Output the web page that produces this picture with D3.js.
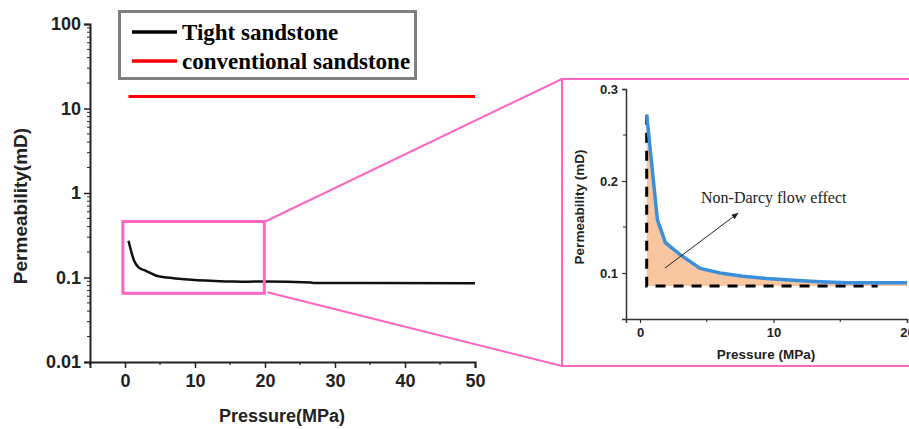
<!DOCTYPE html>
<html>
<head>
<meta charset="utf-8">
<script src="https://cdn.jsdelivr.net/npm/d3@7"></script>
<style>
  html, body { margin: 0; padding: 0; background: #fff; }
  svg { display: block; }
</style>
</head>
<body>
<svg id="chart" width="909" height="429"></svg>
<script>
// Permeability vs. pressure: tight sandstone curve and conventional sandstone level
const pressure   = [0.5, 1.3, 1.9, 3.0, 4.5, 6.0, 7.7, 9.5, 11.5, 13.5, 15.5, 17.5, 20, 26.5, 27, 35, 50];
const tightPerm  = [0.272, 0.158, 0.133, 0.120, 0.105, 0.100, 0.0965, 0.094, 0.092, 0.0905, 0.0895, 0.0893, 0.0895, 0.0875, 0.0862, 0.0858, 0.0855];
const convPressure = [0.5, 50];
const convPerm     = [13.9, 13.9];

// Axis ticks
const mainXTicks = [0, 10, 20, 30, 40, 50];
const mainXMinor = [-5, 5, 15, 25, 35, 45];
const mainYTicks = [0.01, 0.1, 1, 10, 100];
const mainYLabels = ["0.01", "0.1", "1", "10", "100"];
const insetXTicks = [0, 10, 20];
const insetXMinor = [5, 15];
const insetYTicks = [0.1, 0.2, 0.3];
const insetYMinor = [0.15, 0.25];

// Zoomed window (pressure range, permeability range) and non-Darcy baseline
const zoomPressure = [-0.3, 19.9];
const zoomPerm = [0.065, 0.46];
const darcyBase = 0.086;
const darcyEnd = 17.8;

const legendItems = ["Tight sandstone", "conventional sandstone"];
const legendColors = ["#000000", "#ff0000"];

const svg = d3.select("#chart");
const pink = "#ff66c4";
const axisColor = "#222";

// ---------- main chart ----------
const x = d3.scaleLinear().domain([-5, 50]).range([90, 475]);
const y = d3.scaleLog().domain([0.01, 100]).range([362, 24]);

const main = svg.append("g");

// minor log ticks on the y axis
const yMinor = [];
for (let e = -2; e < 2; e++) for (let k = 2; k <= 9; k++) yMinor.push(k * Math.pow(10, e));
main.selectAll("line.yminor").data(yMinor).join("line")
  .attr("x1", x(-5)).attr("x2", x(-5) - 3)
  .attr("y1", d => y(d)).attr("y2", d => y(d))
  .attr("stroke", axisColor).attr("stroke-width", 1);

main.selectAll("line.xminor").data(mainXMinor).join("line")
  .attr("x1", d => x(d)).attr("x2", d => x(d))
  .attr("y1", y(0.01)).attr("y2", y(0.01) + 3)
  .attr("stroke", axisColor).attr("stroke-width", 1.2);

const yAxis = main.append("g")
  .attr("transform", `translate(${x(-5)},0)`)
  .call(d3.axisLeft(y).tickValues(mainYTicks)
    .tickFormat((d, i) => mainYLabels[i]).tickSize(6).tickPadding(3));
const xAxis = main.append("g")
  .attr("transform", `translate(0,${y(0.01)})`)
  .call(d3.axisBottom(x).tickValues(mainXTicks).tickSize(6).tickPadding(6));

[xAxis, yAxis].forEach(g => {
  g.select(".domain").attr("stroke", axisColor).attr("stroke-width", 2);
  g.selectAll(".tick line").attr("stroke", axisColor).attr("stroke-width", 1.5);
  g.selectAll(".tick text").attr("fill", axisColor)
    .style("font-family", "'Liberation Sans', Arial, sans-serif")
    .style("font-weight", "bold").style("font-size", "18px");
});

main.append("text")
  .attr("x", 282).attr("y", 422)
  .attr("text-anchor", "middle")
  .style("font-family", "'Liberation Sans', Arial, sans-serif")
  .style("font-weight", "bold").style("font-size", "18px").attr("fill", axisColor)
  .text("Pressure(MPa)");

main.append("text")
  .attr("transform", "translate(27,206) rotate(-90)")
  .attr("text-anchor", "middle")
  .style("font-family", "'Liberation Sans', Arial, sans-serif")
  .style("font-weight", "bold").style("font-size", "19px").attr("fill", axisColor)
  .text("Permeability(mD)");

const mainLine = d3.line().x(d => x(d.p)).y(d => y(d.k));
const tightData = pressure.map((p, i) => ({ p, k: tightPerm[i] }));
const convData = convPressure.map((p, i) => ({ p, k: convPerm[i] }));

main.append("path").datum(convData)
  .attr("d", mainLine).attr("fill", "none")
  .attr("stroke", "#ff0000").attr("stroke-width", 3);
main.append("path").datum(tightData)
  .attr("d", mainLine.curve(d3.curveMonotoneX)).attr("fill", "none")
  .attr("stroke", "#111").attr("stroke-width", 2.5);

// legend
const legend = main.append("g");
legend.append("rect")
  .attr("x", 119.5).attr("y", 11.5).attr("width", 296).attr("height", 67)
  .attr("fill", "#fff").attr("stroke", "#808080").attr("stroke-width", 3);
legendItems.forEach((name, i) => {
  const ly = 32 + i * 29;
  legend.append("line")
    .attr("x1", 132).attr("x2", 177).attr("y1", ly).attr("y2", ly)
    .attr("stroke", legendColors[i]).attr("stroke-width", 3.5);
  legend.append("text")
    .attr("x", 182).attr("y", ly + 8)
    .style("font-family", "'Liberation Serif', 'Times New Roman', serif")
    .style("font-weight", "bold").style("font-size", "23px").attr("fill", "#000")
    .text(name);
});

// zoom window on the main chart
const zx0 = x(zoomPressure[0]), zx1 = x(zoomPressure[1]);
const zy0 = y(zoomPerm[1]), zy1 = y(zoomPerm[0]);
main.append("rect")
  .attr("x", zx0).attr("y", zy0).attr("width", zx1 - zx0).attr("height", zy1 - zy0)
  .attr("fill", "none").attr("stroke", pink).attr("stroke-width", 3);

// ---------- inset ----------
const box = { x: 562, y: 79, w: 360, h: 287 };
svg.append("line")
  .attr("x1", zx1 + 1).attr("y1", zy0).attr("x2", box.x).attr("y2", box.y)
  .attr("stroke", pink).attr("stroke-width", 2);
svg.append("line")
  .attr("x1", zx1 + 3).attr("y1", zy1 - 1).attr("x2", box.x).attr("y2", box.y + box.h)
  .attr("stroke", pink).attr("stroke-width", 2);
svg.append("rect")
  .attr("x", box.x).attr("y", box.y).attr("width", box.w).attr("height", box.h)
  .attr("fill", "#fff").attr("stroke", pink).attr("stroke-width", 2);

const ix = d3.scaleLinear().domain([-1.05, 20]).range([626, 907]);
const iy = d3.scaleLinear().domain([0.05, 0.3]).range([319, 89]);
const inset = svg.append("g");

const zoomData = tightData.filter(d => d.p <= 20);

inset.append("path").datum(zoomData)
  .attr("d", d3.area().x(d => ix(d.p)).y0(iy(darcyBase)).y1(d => iy(d.k)))
  .attr("fill", "#f9c6a2");

inset.append("path")
  .attr("d", d3.line()([[ix(zoomData[0].p), iy(zoomData[0].k)], [ix(zoomData[0].p), iy(darcyBase)], [ix(darcyEnd), iy(darcyBase)]]))
  .attr("fill", "none").attr("stroke", "#000").attr("stroke-width", 3)
  .attr("stroke-dasharray", "10,8");

inset.append("path").datum(zoomData)
  .attr("d", d3.line().x(d => ix(d.p)).y(d => iy(d.k)))
  .attr("fill", "none").attr("stroke", "#3b8fdb").attr("stroke-width", 3.5)
  .attr("stroke-linejoin", "round");

inset.selectAll("line.ixm").data(insetXMinor).join("line")
  .attr("x1", d => ix(d)).attr("x2", d => ix(d))
  .attr("y1", iy(0.05)).attr("y2", iy(0.05) + 3)
  .attr("stroke", axisColor).attr("stroke-width", 1);
inset.selectAll("line.iym").data(insetYMinor).join("line")
  .attr("x1", ix(-1.05)).attr("x2", ix(-1.05) - 3)
  .attr("y1", d => iy(d)).attr("y2", d => iy(d))
  .attr("stroke", axisColor).attr("stroke-width", 1);

const iyAxis = inset.append("g")
  .attr("transform", `translate(${ix(-1.05)},0)`)
  .call(d3.axisLeft(iy).tickValues(insetYTicks).tickFormat(d3.format(".1f")).tickSize(4).tickPadding(4));
const ixAxis = inset.append("g")
  .attr("transform", `translate(0,${iy(0.05)})`)
  .call(d3.axisBottom(ix).tickValues(insetXTicks).tickSize(4).tickPadding(5));
[ixAxis, iyAxis].forEach(g => {
  g.select(".domain").attr("stroke", "#333").attr("stroke-width", 1.5);
  g.selectAll(".tick line").attr("stroke", "#333").attr("stroke-width", 1.2);
  g.selectAll(".tick text").attr("fill", axisColor)
    .style("font-family", "'Liberation Sans', Arial, sans-serif")
    .style("font-weight", "bold").style("font-size", "13px");
});

inset.append("text")
  .attr("x", 766).attr("y", 359).attr("text-anchor", "middle")
  .style("font-family", "'Liberation Sans', Arial, sans-serif")
  .style("font-weight", "bold").style("font-size", "13.5px").attr("fill", axisColor)
  .text("Pressure (MPa)");
inset.append("text")
  .attr("transform", "translate(584,207) rotate(-90)").attr("text-anchor", "middle")
  .style("font-family", "'Liberation Sans', Arial, sans-serif")
  .style("font-weight", "bold").style("font-size", "13.5px").attr("fill", axisColor)
  .text("Permeability (mD)");

// annotation arrow
svg.append("defs").append("marker")
  .attr("id", "arrowhead").attr("viewBox", "0 0 10 10")
  .attr("refX", 9).attr("refY", 5).attr("markerWidth", 7).attr("markerHeight", 7)
  .attr("orient", "auto")
  .append("path").attr("d", "M0,1 L10,5 L0,9 Z").attr("fill", "#222");
inset.append("line")
  .attr("x1", ix(1.87)).attr("y1", iy(0.1054))
  .attr("x2", ix(7.34)).attr("y2", iy(0.165))
  .attr("stroke", "#222").attr("stroke-width", 1)
  .attr("marker-end", "url(#arrowhead)");
inset.append("text")
  .attr("x", ix(4.57)).attr("y", iy(0.176))
  .style("font-family", "'Liberation Serif', 'Times New Roman', serif")
  .style("font-size", "16px").attr("fill", "#222")
  .text("Non-Darcy flow effect");
</script>
</body>
</html>
